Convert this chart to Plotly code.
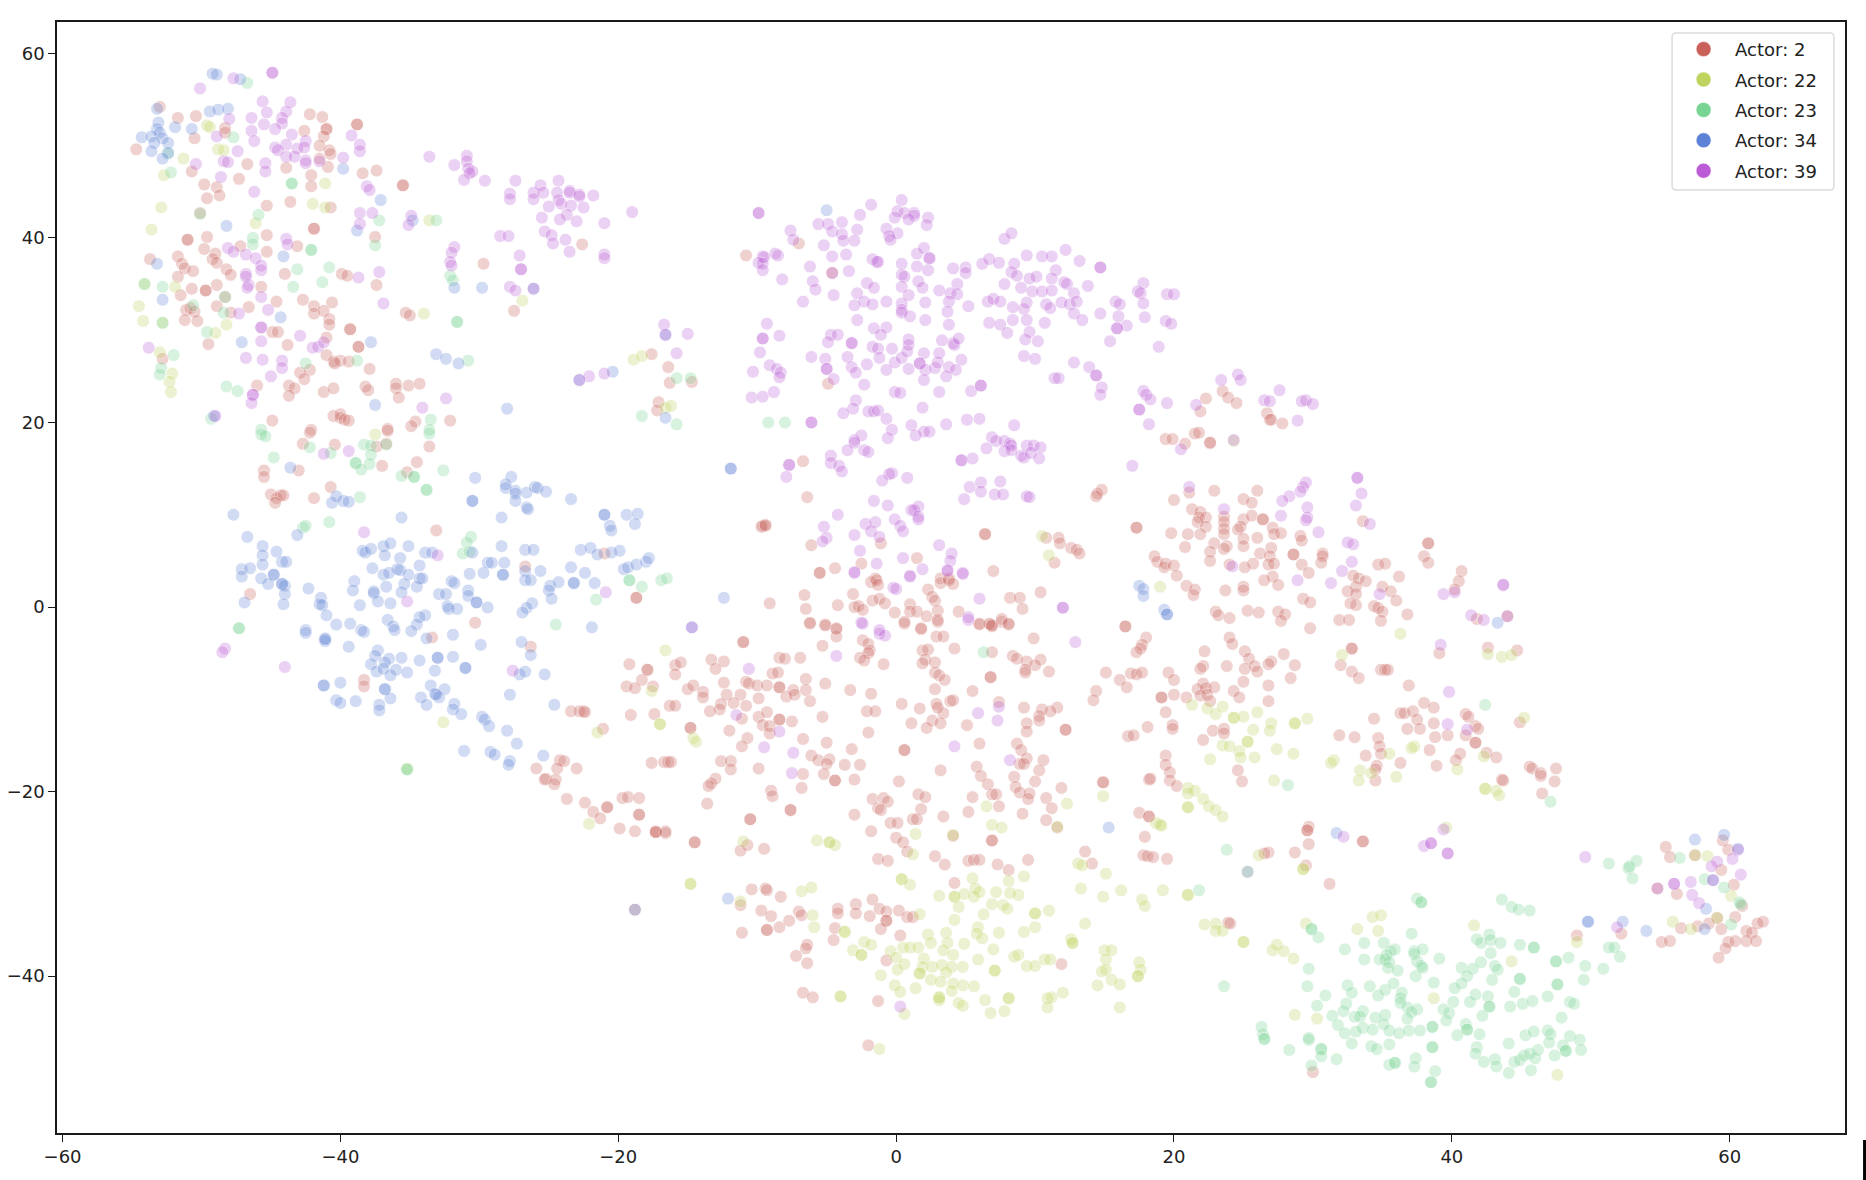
import plotly.graph_objects as go

# values, (x, y) per actor
actor_2 = [
    (-53,54.2),(-51.7,53),(-50.4,53.2),(-48.3,51.9),(-48.3,51.4),(-50.5,50.8),(-54.7,49.6),(-42.2,53.4),(-41.3,53.1),
    (-38.8,52.3),(-38.8,52.3),(-41,51.8),(-41,51.8),(-42.6,51.6),(-41.2,51),(-41.5,50),(-40.8,49.5),(-40.7,49.1),
    (-41.5,48.6),(-40.9,47.7),(-46.7,48),(-43.9,47.6),(-50.7,47.2),(-37.4,47.3),(-38.4,47),(-42.1,46.8),(-47.3,46.4),
    (-49.8,45.8),(-48.9,45.5),(-42.1,45.6),(-48.7,44.6),(-49.6,44.3),(-35.5,45.7),(-35.5,45.7),(-45.3,43.5),(-43.6,43.9),
    (-40.7,43.3),(-50.1,42.7),(-41.9,41),(-41.9,41),(-51,39.8),(-51,39.8),(-49.6,40.1),(-45.3,40.3),(-37.5,40.1),
    (-47.2,39.1),(-43.1,39.1),(-49.8,38.8),(-45.3,38.5),(-53.7,37.7),(-51.7,38),(-49,38.3),(-49.2,37.7),(-48.9,37.3),
    (-51.4,37.2),(-51.2,36.7),(-50.6,36.4),(-48.2,36.6),(-47.9,36),(-51.7,35.8),(-44,36.1),(-39.9,36.1),(-39.5,35.9),
    (-37.4,34.9),(-50.7,34.5),(-48.9,34.9),(-49.7,34.3),(-49.7,34.3),(-45.7,34.7),(-51.5,33.8),(-48.3,33.6),(-42.7,33.3),
    (-40.6,33),(-44.6,33.1),(-48.9,32.6),(-46.6,32.5),(-51.1,32.2),(-50.8,32.4),(-50.5,32),(-47.9,31.9),(-41.9,32.6),
    (-41.9,31.8),(-41.2,32.1),(-51.2,31.1),(-50.3,31),(-40.8,31.2),(-40.8,30.6),(-35.3,31.9),(-35,31.6),(-39.3,30.1),
    (-39.3,30.1),(-44.9,29.8),(-44.5,29.8),(-41,29.2),(-49.5,28.5),(-43.8,28.4),(-38.7,28.2),(-38.7,28.2),(-27.5,32.1),
    (-41,27.3),(-40.5,26.6),(-40,26.7),(-39.4,26.6),(-40.4,26.4),(-29.7,37.2),(-22.6,39.3),(-52.8,26.9),(-42.2,25.7),
    (-42.9,25.4),(-42.6,24.7),(-37.9,25.8),(-46,24),(-43.7,24),(-43.3,23.7),(-43.7,22.9),(-41.2,23.3),(-40.5,23.7),
    (-38.2,23.9),(-38,23.5),(-36,24.2),(-36,23.7),(-35.1,24),(-34.3,24.2),(-35.8,22.7),(-17.6,27.4),(-16.4,26),
    (-16.3,24.3),(-14.7,24.4),(-17.1,22.2),(-17.2,21.3),(-44.9,20.2),(-40.5,20.7),(-40,20.9),(-40,20.5),(-39.7,20.3),
    (-39.4,20.2),(-34.6,20.1),(-34.9,19.6),(-32.1,20.2),(-36.6,19.3),(-42.1,19.2),
    (-42.2,18.9),(-36.6,19.1),(-42.7,17.7),(-40.4,17.6),(-37.4,17.4),(-36.7,17.7),(-33.6,17.4),(-34.5,15.7),(-37,15.3),
    (-43,14.8),(-45.5,14.8),(-45.5,14.1),(-35.2,14.6),(-40.7,13),(-45,12.2),(-44.6,11.8),(-44.3,12.1),(-44.1,12.1),
    (-44.7,11.3),(-41.9,11.8),(-33.1,8.3),(-26.7,4.4),(-21,5.8),(-18.7,1),(-18.7,1),(-46.5,1.4),(-30.3,-1.7),(-33.4,-3.3),
    (-26.3,-4.3),(-9.6,8.8),(-9.4,8.8),(-9.1,0.4),(-11,-3.8),(-11,-3.8),(-38.3,-7.9),(-38.3,-8.6),
    (-19.2,-6.2),(-17.9,-6.8),(-17.9,-6.8),(-18.3,-7.9),(-19.4,-8.6),(-18.8,-8.8),(-17.5,-8.6),(-15.9,-6.3),(-15.5,-6),
    (-15.9,-7.3),(-13.3,-5.7),(-12.4,-5.9),(-13,-6.7),(-8.4,-5.5),(-8,-5.6),(-6.9,-5.5),(-8.9,-7.2),(-8.5,-7.1),
    (-12.4,-8.2),(-10.8,-8.1),(-10.6,-8.3),(-10,-8.5),(-9.3,-8.5),(-8.4,-8.7),(-8.4,-8.7),(-7.4,-9),(-15,-8.9),(-14.6,-8.5),
    (-13.9,-9.2),(-13.9,-9.8),(-12.2,-9.5),(-11.2,-9.5),(-9.9,-9.9),(-7.9,-9.7),(-11.7,-10.4),(-10.8,-10.7),(-12.6,-10.5),
    (-12.7,-11.1),(-13.4,-11.3),(-16.3,-10.7),(-15.9,-10.7),(-19.1,-11.7),(-17.4,-11.6),(-11.1,-12.1),(-9.9,-11.9),
    (-9.3,-11.4),(-8.4,-12.2),(-8.4,-12.2),(-7.5,-12.4),(-9.6,-12.8),(-9.1,-12.9),(-9.1,-13.7),(-12,-13.4),(-14.8,-13.1),
    (-14.8,-13.1),(-10.7,-14.2),(-11.1,-15.1),(-21.1,-13.2),(-23.4,-11.3),(-22.8,-11.3),(-22.5,-11.3),(-22.4,-11.4),
    (-17.6,-16.9),(-16.7,-16.8),(-16.4,-16.8),(-16.2,-16.8),(-12.6,-16.7),(-11.9,-16.7),(-11.9,-17.6),(-9.9,-17.5),
    (-24.2,-16.6),(-23.9,-16.7),(-24.4,-17.5),(-25.9,-17.5),(-23,-17.5),(-25.2,-18.6),(-25.3,-18.7),(-24.5,-18.7),
    (-24.6,-19.2),(-23.7,-20.8),(-22.4,-21.2),(-21.8,-22.2),(-20.8,-21.7),(-20.8,-21.7),(-21.3,-22.9),(-19.7,-20.7),
    (-19.3,-20.6),(-18.5,-20.7),(-18.5,-22.5),(-18.5,-22.5),(-19.9,-24),(-18.8,-24.3),(-17.3,-24.3),(-16.6,-24.3),
    (-13,-18.6),(-13.3,-19.1),(-13.5,-19.4),(-13.6,-21.3),(-10.5,-23),(-10.5,-23),(-9,-19.9),(-8.9,-20.5),(-7.6,-22),(-7.6,-22),
    (-6.2,-1.8),(-5.1,-1.9),(-4.3,-2.4),(-4.3,-3.2),(-5.3,-4.2),(-2.4,-3.6),(-2,-4),(-1.9,-4.7),(-2,-5),(-2.6,-5.5),
    (-2.3,-5.8),(-0.9,-6.2),(0.6,-1.8),(1.8,-2.4),(3,-1.6),(2.9,-3.2),(3.4,-3.2),(4.2,-4.5),(1.9,-4.7),(2.3,-4.6),
    (2.1,-5.7),(1.9,-6.1),(2.8,-6),(2.8,-7.1),(3.1,-7.4),(3.5,-7.9),(2.8,-8.9),(5.5,-9.1),(6,-1.9),(6.8,-1.9),(6.9,-2.1),
    (7.6,-1.6),(8.1,-1.9),(6.9,-4.9),(6.8,-7.6),(6.8,-7.6),(9.9,-3.4),(8.4,-5.3),(8.7,-5.6),(9.4,-5.9),(10.4,-5.7),(10,-6.3),
    (9.3,-6.8),(9.3,-7.1),(11,-7),(16.5,-2.1),(16.5,-2.1),(18,-3.3),(17.7,-4.1),(17.6,-4.5),(17.3,-4.9),(15.1,-7.1),(16.9,-7.2),
    (17.3,-7.3),(17.7,-7.1),(16.1,-7.9),(16.6,-8.7),(14.4,-9.1),(14.2,-10.1),(18.1,-13),(16.7,-14),(17.1,-13.9),(12.2,-13.3),
    (12.2,-13.3),(18.2,-18.7),(14.9,-19),(14.9,-19),(17.5,-22.3),(18.2,-22.7),(18.2,-22.7),(17.9,-24.9),(17.8,-26.9),(18.1,-27),
    (18.5,-27.1),(19.5,-27.3),(13.6,-26.5),(14.1,-27.8),(23.9,-34.2),
    (9.2,-10.9),(10.5,-11.1),(11.6,-10.9),(11.1,-11.3),(10.3,-11.8),(9.4,-12.6),(10.3,-12.3),(9.4,-13.5),(7.4,-10.3),
    (5.1,-12.8),(6,-14.8),(8.7,-14.8),(9,-15.5),(9.4,-16.4),(10.6,-16.6),(8.9,-17),(9.2,-17),(10.3,-17.7),(5.8,-17.3),
    (6.1,-18.3),(6.6,-19.2),(8.5,-18.4),(10,-18.9),(8.6,-19.5),(8.9,-20.1),(9.6,-20.2),(9.5,-20.8),(10.8,-20.7),(11.9,-19.6),
    (11.2,-21.8),(9.1,-22.4),(10.8,-23.1),(11.6,-23.9),(6.9,-20.3),(7.2,-20.3),(5.5,-20.6),(7.4,-21.6),(5.2,-22.2),
    (3.2,-17.7),(0.2,-18.9),(1.6,-20.3),(2.1,-20.6),(1.8,-21.9),(3.4,-22.7),(1.2,-23),(1.5,-23),(-1.7,-20.8),(-0.9,-20.7),
    (-0.6,-21.1),(-1.3,-21.8),(-1.1,-22),(-3,-22.5),(-0.4,-23.4),(0.1,-23.4),(-1.8,-24.3),(0,-25),(0.5,-25.5),(0.8,-26.5),
    (-1.3,-27.3),(-0.6,-27.5),(2.8,-27),(3.5,-27.9),(4.1,-24.8),(6.9,-25.3),(6.9,-25.3),(5.2,-27.5),(5.6,-27.4),(6,-27.4),
    (7.3,-27.9),(8.1,-28.5),(9.5,-27.4),(4.2,-29.9),
    (-6.5,-7.8),(-5.1,-8.3),(-3.3,-9),(-1.8,-9.4),(-6.5,-9),(-7.3,-9.5),(-6.2,-10.2),(0.4,-10.5),(1.7,-11),(2.9,-10.5),
    (3.4,-11.5),(3.9,-10.2),(4.1,-10.1),(3,-10.9),(-2.1,-11.3),(-1.5,-11.3),(-5.3,-11.9),(1.1,-12.6),(2.6,-12.3),(3.2,-12.6),
    (2.2,-13.1),(-2,-13.6),(-6.7,-14.3),(-5,-14.7),(-3.2,-15.4),(0.6,-15.5),(0.6,-15.5),(-6.1,-16.1),(-5.6,-16.6),(-4.8,-16.5),
    (-5,-17),(-3.7,-17.1),(-2.6,-17.1),(-6.7,-18.1),(-5.2,-18.1),(-4.4,-18.8),(-4.4,-18.8),(-3,-18.7),(-6.8,-19.6),
    (-14.5,-25.5),(-14.5,-25.5),(-17.3,-24.4),(-17.3,-24.4),(-16.6,-24.5),(-10.7,-25.8),(-11.2,-26.4),(-9.5,-26.2),
    (-10.4,-30.6),(-9.4,-30.5),(-9.3,-30.7),(-8.3,-31.4),(-11.2,-32.3),(-9.7,-32.9),(-9,-33.5),(-11.1,-35.3),(-9.3,-35),
    (-9.3,-35),(-8.4,-34.7),(-7.7,-34),(-7,-33),(-6.8,-33.4),(-4.2,-32.7),(-4.2,-33.2),(-2.9,-32.2),(-2.9,-33.2),(-1.7,-31.7),
    (-1.9,-33.5),(-1.2,-32.7),(-0.7,-33),(-0.7,-34),(-0.7,-34),(0.2,-32.9),(0.8,-33.6),(1.2,-33.6),(-1.1,-34.9),(0.3,-35.6),
    (-4.4,-34.8),(-4.5,-36.1),(-6.4,-36.6),(-6.5,-37),(-7.2,-37.8),(-6.4,-38.6),(-0.7,-38.3),(11.9,-38.7),(-6.7,-41.8),
    (-6,-42.3),(-1.3,-42.7),(-2,-47.5),(-18.8,-32.8),
    (19.4,18.2),(19.9,18.2),(20.8,17.7),(21.5,18.8),(21.8,18.9),(22.6,17.8),(22.6,17.8),(21.1,12.4),(22.9,12.6),(20,11.6),
    (25,11.7),(25.6,11.3),(26,12.6),(21.3,10.6),(21.9,10.3),(22.3,9.7),(21.8,9.7),(21.7,9.2),(22.3,8.7),(23.6,9.8),(23.6,9.2),
    (23.6,8.5),(23.6,7.9),(25,9.5),(25.6,9.9),(26.4,9.5),(26.4,9.5),(24.8,8.7),(24.6,8.4),(27.1,8.6),(27.2,7.9),(27.7,8),
    (19.8,8),(21,7.9),(21.9,7.9),(26,7.5),(25,7.4),(25,6.6),(22.9,6.9),(23.8,6.6),(23.6,6.3),(20.8,6.5),(22.6,6),(22.6,5),
    (27,6.4),(26.2,5.8),(26.9,5.5),(28.6,5.7),(28.6,5.7),(29.1,7.7),(29.2,7.2),(30.7,5.8),(30.7,5.5),(30.6,4.8),(29.2,4.6),
    (25.7,4.7),(26.8,4.6),(27.2,4.7),(24,4.6),(25.1,4.3),(29.7,3.7),(27.1,3.3),(26.5,2.9),(27.5,2.4),(18.6,5.5),(18.8,4.9),
    (19.4,4.7),(19.3,4.3),(20,4.5),(20.2,3.4),(20.9,2.3),(21.5,1.9),(21.4,1.3),(23.7,1.8),(25,2.2),(25,1.8),(29.3,0.9),(29.8,0.5),
    (33.6,9.3),(38.3,6.9),(38.3,6.9),(38,5.5),(38.3,4.8),(34.7,4.6),(35.2,4.7),(36.2,3.3),(32.9,3.4),(33.3,3.1),(33.8,2.8),
    (33.1,2.2),(35,2.2),(35.6,1.7),(32.5,1.7),(33.1,1.4),(36,0.7),(32.7,0.4),(33.1,0.2),(34.4,0.1),(34.7,-0.1),(35,-0.5),
    (36.8,-0.8),(31.9,-1.4),(32.6,-1.4),(34.9,-1.5),(29.8,-2.3),(40.7,3.9),(40.5,2.8),(40.2,1.9),(41.8,-1.3),(44,-1),
    (23,-0.5),(23.2,-0.9),(24,-1.2),(25.3,-0.4),(26.1,-0.6),(27.5,-0.5),(28,-0.8),(27.7,-1.5),(24,-3.3),(24.2,-4),(25.1,-4.8),
    (25.4,-5.6),(22.2,-4.8),(27.9,-5.1),(27,-5.9),(26.8,-6.2),(28.7,-6.3),(23.8,-6.4),(25.1,-6.7),(25.8,-6.4),(26,-7),(22.1,-6.4),
    (21.9,-6.7),(19.6,-7.1),(20,-7.9),(28.4,-7.7),(25,-8.1),(26.8,-8.5),(22.1,-8.3),(21.7,-8.9),(22.3,-8.8),(22.9,-8.7),
    (21.9,-9.6),(22.4,-9.5),(22.6,-10.2),(24.3,-9.1),(24.7,-9.8),(19.1,-9.8),(19.1,-9.8),(20,-9.5),(20.9,-9.8),(26.8,-10.2),
    (19.4,-11.4),(19.9,-12.8),(19.9,-13.2),(22.8,-13.4),(23.6,-13.2),(23.6,-13.7),(22.1,-14.4),(32.8,-4.5),(32.8,-4.5),(32,-6.3),
    (32.8,-7),(33.3,-7.7),(34.9,-6.8),(35.2,-6.8),(35.4,-6.8),(39.1,-5),(42.6,-4.4),(44.7,-4.7),(36.9,-8.5),(38,-10.4),(38.7,-10.9),
    (36.3,-11.5),(36.6,-11.5),(37.2,-11.3),(37.5,-12.2),(34.4,-12.1),(38.7,-12.6),(36.8,-13.2),(37.7,-13.2),(31.9,-13.9),(33,-14.1),
    (34.7,-14.2),(34.8,-15.1),(34.9,-15.9),(33.8,-16.1),(38.8,-14.1),(39.7,-13.9),(41,-13.9),(41,-11.6),(41.2,-11.9),(41.7,-12.9),
    (41.9,-13.2),(41.7,-14.7),(41.7,-14.7),(44.9,-12.5),(38.4,-15.5),(40.6,-15.9),(40.3,-16.6),(42.5,-15.8),(43.2,-16.3),(36.3,-16.9),
    (38.9,-17.2),(34.6,-17.2),(34.5,-17.6),(34.5,-18.8),(24.6,-17.7),(24.9,-18.9),(19.4,-16.1),(19.4,-17.1),(19.7,-17.9),(19.7,-18.8),
    (20.2,-19.4),(18.3,-18.6),(43.6,-18.7),(43.7,-18.8),(45.6,-17.3),(45.8,-17.5),(46.4,-18),(46.4,-18.3),(47.5,-17.5),(47.4,-18.9),(46.5,-20.2),
    (-10.8,38.1),(-7,39.4),(-4.6,36.2),(-4.9,24.2),(-6.7,15.8),(-6.4,11.9),(-9.7,8.7),(-9.4,8.9),(-6.1,6.7),(-1.1,6.9),(6.4,7.9),(6.4,7.9),
    (10.8,7.5),(11.7,7.5),(11.8,6.9),(12.6,6.4),(13,6.2),(13.2,5.8),(11.4,4.8),(14.8,12.7),(14.5,12.3),(14.4,12),(17.3,8.6),(17.3,8.6),
    (-5.5,3.7),(-5.5,3.7),(-4.4,4.2),(-2.5,4.7),(1.5,5.3),(7,3.9),(-1.5,3.1),(3.2,3.1),(3.8,3.1),
    (22.3,22.6),(21.9,21.2),(23.5,23.4),(23.9,22.7),(24.5,22.1),(26.7,21),(26.9,20.3),(27,20.3),(27.8,19.9),
    (-1.8,2.7),(-1.4,2.9),(-1.3,2.4),(-6.6,1.3),(-3.1,1.4),(-4.2,0.2),(-6.5,-0.2),(-3,0),(-2.7,0.1),(-2.4,-0.3),(-1.7,0.7),(-1.2,0.9),
    (-0.8,0.4),(-0.1,-0.6),(-6.2,-1.7),(-5.1,-2),(-4.3,-2.3),(0.6,-1.6),(1,0.3),(1,-0.5),(1.5,-0.5),(2.2,-1),(2.3,1.9),(2.6,1.1),
    (2.8,0.7),(3.2,2.6),(3.8,2.9),(4.1,2.5),(3,-0.4),(3,-1.4),(4.5,-0.5),(1.8,-2.3),(8.2,1),(8.9,1),(9.1,-0.2),(10.4,1.6),(6,-1.8),
    (6.7,-1.8),(6.9,-2),(7.6,-1.3),(8.1,-1.8),
    (29.7,-23.8),(29.6,-24.2),(29.6,-24.2),(33.6,-25.4),(33.6,-25.4),(29.7,-25.7),(26.8,-26.6),(26.5,-26.7),(28.7,-26.6),(29.5,-28),
    (31.2,-30),(24.05,-34.3),(30,-50.4),(49,-35.6),(55.4,-26),(55.7,-27.1),(57.5,-26.9),(59.5,-25.3),(59.9,-26.3),(59.4,-28.5),
    (60.3,-30.1),(54.8,-30.5),(56.2,-31.1),(60.9,-32.4),(60.4,-33.6),(59.1,-33.7),(58.5,-34.3),(57.7,-34.6),(56.5,-34.8),(59.4,-34.9),
    (61.2,-35.1),(62,-34.3),(62.4,-34.1),(61.6,-35.3),(55.1,-36.3),(55.7,-36.2),(59.9,-36.3),(60.4,-36.2),(61.2,-36.2),(61.9,-36.2),
    (59.7,-37),(59.2,-38),(52.2,-35.4),
]

actor_22 = [
    (-49.6,52.2),(-49.4,52),(-48.8,49.6),(-48.4,49.5),(-51.3,48.6),(-52.7,46.8),(-41.1,45.9),(-52.9,43.3),(-42,43.7),(-41.1,43.3),
    (-46.1,41.6),(-53.6,40.9),(-33.6,41.9),(-51.9,34.7),(-54.5,32.6),(-54.2,31),(-52.8,30.8),(-48.2,30.6),(-49,29.7),(-53,27.6),
    (-52.1,25.3),(-52.3,24.4),(-52.2,23.3),(-34,31.8),(-26.9,33.2),(-18.9,26.8),(-18.3,27.2),(-16.6,21.6),(-16.2,21.8),(-54.1,35),
    (-37.5,18.7),(-16.6,-4.7),(-17.6,-9.1),(-17,-12.7),(-17,-12.7),(-21.5,-13.6),(-32.6,-12.5),(-14.6,-14.2),(-14.4,-14.6),(-22.1,-23.5),(-35.2,-17.5),
    (10.5,7.7),(11,5.6),(24.3,18),(19,2.2),(36.3,-2.9),(32.1,-5.2),(42.6,-5.1),(43.6,-5.4),(44.3,-5.2),(45.2,-12),(21.3,-10.6),
    (22.4,-11),(23,-11.6),(23.5,-10.8),(24.3,-12),(24.3,-12),(25,-11.9),(26,-11.4),(27,-12.6),(26.9,-13.4),(25.7,-13.3),(28.7,-12.6),(28.7,-12.6),
    (29.6,-12.1),(25.3,-14.6),(25.3,-14.6),(23.5,-15),(24,-15.1),(24.7,-15.6),(24.8,-16.3),(25.8,-16.3),(27.4,-15.4),(28.6,-15.9),(22.6,-16.5),
    (27.2,-18.8),(35.5,-15.9),(31.5,-16.6),(31.3,-16.9),(33.4,-17.7),(34.2,-18),(33.3,-18.8),(36,-18.4),(37.3,-15.1),(37.1,-15.3),(40.4,-17.6),
    (42.3,-16.2),(42.4,-19.7),(42.4,-19.7),(43.2,-19.9),(43.4,-20.4),(21,-19.6),(21.5,-19.9),(21,-20.2),(22.1,-20.8),(22.5,-21.6),(23,-22),
    (23.5,-22.7),(21,-21.7),(21,-21.7),(19,-23.6),(18.7,-23.4),(19.1,-23.7),
    (-11,-25.4),(-5.7,-25.3),(-4.8,-25.5),(-4.8,-25.5),(-4.4,-25.8),(1.4,-24.6),(4.1,-24.7),(1.2,-26.8),(6.5,-21.6),(6.9,-23.6),(7.6,-23.9),
    (11.6,-23.8),(12.3,-21.3),(14.9,-20.5),(13.1,-27.8),(13.4,-28),(15.1,-28.9),(13.3,-30.5),(14.9,-31.4),(16.2,-30.7),(17.7,-31.7),(17.9,-32.4),
    (19.2,-30.7),(21,-31.2),(21,-31.2),(22.2,-34.4),(23,-34.3),(23,-35.1),(23.5,-35.1),(25,-36.3),(25,-36.3),
    (-14.8,-30),(-14.8,-30),(-11.2,-31.9),(-6.8,-30.8),(-6.1,-30.4),(-6,-33.4),(-5.9,-34.7),(-3.7,-35.2),(-3.7,-35.2),(-2.3,-36.3),(-1.8,-36.6),
    (-3.1,-37.2),(-2.5,-37.7),(-2.5,-37.7),(1.7,-33.3),(0.4,-29.5),(0.4,-29.5),(1,-30.1),(3.1,-31.3),(4.2,-31.4),(4.2,-31.4),(4.9,-31.1),(5.5,-29.4),
    (5.7,-30.5),(5.6,-31.4),(6,-30.9),(7.2,-30.9),(8.1,-29.7),(8.2,-31),(8.8,-31.2),(9.2,-29.2),(6.9,-32.2),(7.7,-32.3),(8,-32.7),(4.5,-32.5),
    (6.3,-33.3),(4.2,-33.9),(10,-33.2),(10,-33.2),(11,-32.9),(5.9,-34.7),(5.8,-35.4),(6.2,-35.9),(7.4,-35.3),(9.2,-35.2),(10,-34.7),(13.6,-34.3),
    (2.3,-35.5),(3.6,-35.3),(2.5,-36.4),(3.7,-36.4),(4.9,-36.5),(3.4,-37.2),(4.1,-37.7),(7,-37.1),(-0.4,-37.3),(0.5,-36.9),(1,-36.9),(1.6,-36.9),
    (0,-38),(0.6,-38.7),(2,-38.1),(0.1,-39.3),(-1.1,-39.9),(1.9,-39),(2.6,-39),(3.3,-38.8),(4,-39),(4.8,-39),(5.9,-38.2),(1.7,-39.7),(1.7,-39.7),
    (3.6,-39.6),(7.1,-39.4),(7.1,-39.4),(8.5,-37.9),(8.8,-37.7),(9.4,-38.9),(10,-38.9),(10.7,-38.2),(11.1,-38.2),(12.6,-36),(12.7,-36.4),(12.7,-36.4),
    (15,-37.2),(15.5,-37.2),(15.1,-38.2),(14.8,-39.5),(15.1,-39.3),(17.5,-38.5),(17.6,-39.3),(17.4,-40),(17.4,-40),(15.5,-40.4),(16.1,-40.9),
    (14.5,-41),(12,-41.8),(11.2,-42.3),(10.9,-42.4),(10.9,-43.4),(16.1,-43.4),(2.5,-40.4),(3.2,-40.6),(4.1,-40.8),(4.8,-41),(5.6,-41.1),(4,-41.6),
    (-0.1,-41),(0.3,-41.7),(1.4,-41.3),(3.1,-42.3),(3.1,-42.3),(3.1,-42.6),(4.5,-42.9),(4.8,-43.2),(6.4,-42.6),(8.1,-42.4),(8.1,-42.4),(6.8,-44),
    (7.8,-43.8),(0.6,-44.1),(-4,-42.2),(-4,-42.2),(-1.2,-47.9),
    (26.1,-26.9),(29.3,-28.4),(29.3,-28.4),(29.5,-34.3),(34.3,-33.6),(34.9,-33.4),(33.2,-34.9),(34.7,-35.1),(41.6,-34.5),(27.4,-36.6),(27.1,-37.2),
    (27.9,-37.3),(28.6,-38.1),(44.3,-38.4),(38.7,-42.4),(28.7,-44.2),(30.3,-44.6),(47.6,-50.7),(39.6,-23.9),(49,-36.3),(55.9,-34.1),(57.2,-34.9),
    (58.4,-27),(57.5,-26.9),(60.1,-31.3),(59.1,-33.7),(25.3,-28.7),
]

actor_23 = [
    (-46.7,56.8),(-47.7,50.9),(-52.4,49.2),(-52.2,47.1),(-43.5,45.9),(-43.5,45.9),(-50.1,42.6),(-45.9,42.5),(-37.2,41.9),(-33.1,41.9),(-46.3,40),
    (-46.3,39.3),(-42.1,38.7),(-42.1,38.7),(-37.5,39.2),(-54.1,35),(-52.8,34.7),(-43.1,36.6),(-40.8,36.8),(-41.3,35.2),(-43.4,34.7),(-48.3,33.6),
    (-50.6,32.7),(-48.4,31.9),(-49.6,29.8),(-52.8,30.8),(-52,27.3),(-52.9,25.9),(-53,25.2),(-42.5,26.4),(-38.8,26.7),(-48.2,23.9),(-47.4,23.4),
    (-30.8,26.7),(-32.1,35.9),(-31.9,35.4),(-31.6,30.9),(-31.6,30.9),(-15.8,24.8),(-14.8,24.8),(-18.3,20.7),(-15.8,19.8),(-49.3,20.4),(-33.5,20.3),
    (-33.6,19.2),(-45.7,19.2),(-45.7,18.7),(-45.4,18.5),(-42.2,17.3),(-40.7,16.7),(-33.6,18.8),(-38.3,17.6),(-37.8,17.5),(-36.7,17.6),(-37.8,16.5),
    (-44.8,16.2),(-38.9,15.6),(-38.9,15.6),(-37.9,15.5),(-38.5,14.9),(-35.6,14.2),(-34.7,14.1),(-34.7,14.1),(-32.6,14.8),(-33.8,12.7),(-33.8,12.7),
    (-38.6,11.9),(-40.8,9.2),(-42.7,8.6),(-42.5,8.8),(-30.6,7.6),(-30.9,7),(-31.2,5.8),(-30.7,6),(-19.2,2.9),(-19.2,2.9),(-18.3,2.2),(-16.9,2.9),
    (-16.5,3.1),(-21.6,0.8),(-24.5,-1.9),(-47.3,-2.3),(-47.3,-2.3),(-35.2,-17.6),(-35.2,-17.6),(-9.2,20),(-8,20),(6.3,-4.9),(23.8,-26.3),(21.8,-30.7),
    (23.6,-41.1),(42.4,-10.6),(28.2,-19.3),(47.1,-21.1),
    (37.5,-31.6),(37.8,-32),(37.8,-32),(29.9,-34.9),(29.9,-34.9),(30.4,-35.8),(32.3,-37.1),(33.7,-36.4),(35.1,-36.4),(35.9,-37.1),(35.6,-37.3),(37.1,-35.4),
    (35.3,-37.7),(37.3,-37.3),(37.9,-37.1),(37.3,-37.6),(33.7,-38.2),(34.8,-38.2),(35.2,-38.2),(35.5,-38.5),(35.4,-39.1),(36.1,-39.4),(37.5,-38.4),
    (37.8,-38.9),(37.9,-39.1),(39.1,-38.1),(37.4,-40),(29.7,-39.2),(29.6,-41.1),(38.7,-40.7),(32.5,-41),(32.8,-41.8),(30.9,-42.1),(34.1,-41.1),
    (34.7,-42.1),(35.2,-41.5),(35.8,-40.8),(36.4,-41.8),(36.3,-42.4),(36.3,-42.9),(30.3,-43.2),(32.4,-43),(32.2,-43.8),(31.4,-44.3),(33,-44.4),
    (33.6,-43.8),(33.4,-44.4),(34.5,-44.5),(35.2,-44.2),(36.8,-43.4),(37.5,-43.6),(37.1,-43.9),(36.8,-44.6),(31.8,-45.3),(33.6,-45.6),(34.3,-45.8),
    (35.1,-45.2),(35.5,-45.9),(36.2,-46.2),(36.9,-45.9),(37.7,-45.9),(38.6,-45.5),(38.6,-45.5),(32.3,-46.2),(33.1,-46),(32.8,-47.3),(34.2,-47.6),
    (34.6,-47.9),(35.5,-47.4),(38.6,-47.7),(38.6,-47.7),(28.3,-48),(29.7,-46.7),(29.7,-46.9),(30.6,-47.9),(30.6,-47.9),(30.6,-48.7),(31.7,-49),
    (29.9,-49.7),(35.5,-49.6),(35.9,-49.4),(35.9,-49.4),(37.4,-48.9),(37.3,-49.8),(38.8,-50.3),(38.5,-51.5),(38.5,-51.5),(26.3,-45.5),(26.4,-46.3),
    (26.5,-46.8),(26.5,-46.8),(40.7,-39.1),(41.5,-39.2),(41.1,-40),(40.7,-40.8),(40.2,-41.3),(42.1,-38.5),(42.8,-37.5),(41.8,-36),(42.1,-36.4),
    (42.7,-35.5),(42.8,-36.1),(43.5,-36.4),(44.9,-36.6),(45.9,-36.9),(45.9,-36.9),(43.1,-38.9),(43.3,-39.3),(42.9,-40.4),(44.9,-40.3),(44.9,-40.3),
    (47.5,-38.4),(47.5,-38.4),(48.4,-38),(49.6,-38.9),(50.9,-39.2),(52.1,-37.9),(51.3,-36.9),(51.7,-36.9),(49.5,-40.4),(47.6,-40.9),(47.6,-40.9),
    (44.5,-41.7),(41.7,-42),(41.3,-42.8),(40.1,-42.8),(42.6,-42.2),(42.7,-43.3),(42.7,-43.3),(44.2,-43.3),(45.1,-43),(45.8,-42.7),(46.9,-42.2),
    (48.5,-42.8),(48.8,-43),(47.9,-44.5),(39.4,-43.6),(39.8,-44),(39.6,-44.8),(42.2,-44.3),(41,-45.2),(41.1,-45.8),(41.1,-45.8),(40.4,-46.4),(42,-46.3),
    (44.1,-47.3),(45.3,-46.4),(45.9,-46),(46.9,-45.9),(47.1,-46.3),(47,-47.2),(48.5,-46.5),(49.2,-46.9),(48,-47.5),(48.2,-48.1),(48.2,-48.1),(49.3,-48),
    (47.4,-48.6),(41.8,-47.7),(41.7,-48.4),(42.3,-49.3),(43.1,-49),(43.2,-49.8),(44.1,-50.5),(45.7,-50.2),(44.5,-49.3),(44.9,-49.1),(45.2,-48.6),
    (45.6,-48.4),(46,-48.9),(46.2,-48),(43.6,-31.7),(44.3,-32.5),(44.8,-32.8),(45.6,-32.9),(51.3,-27.8),(52.7,-28.3),(53.3,-27.5),(53,-29.4),(52.8,-28.1),
    (56.4,-27.2),(58.2,-29.5),(59.6,-30.4),(60.7,-32),(60.8,-32.2),(60.1,-34.4),
]

actor_34 = [
    (-49.2,57.8),(-48.9,57.7),(-47.2,57.2),(-53.2,54),(-49.4,53.7),(-48.8,53.9),(-48.1,54),(-53.1,52.5),(-51.9,52),(-50.7,51.8),(-53.2,51.8),(-53,51.4),
    (-54.3,50.9),(-53.6,51),(-52.8,50.8),(-52.4,50.3),(-53.4,50.3),(-53.6,49.4),(-52.4,49.2),(-52.8,48.6),(-39.8,47.5),(-37.1,44.1),(-48.2,41.3),
    (-34.8,41.9),(-38.8,40.8),(-53.2,37.2),(-44.1,38),(-52.8,33.3),(-44.3,31.4),(-47.1,28.7),(-37.8,28.7),(-33.1,27.4),(-32.4,26.9),(-31.5,26.4),
    (-37.5,21.9),(-28,21.5),(-20.4,25.5),(-22.8,24.6),(-16.6,29.5),(-31.8,34.6),(-29.8,34.6),(-26.1,34.5),(-49.1,20.7),(-16.6,20.5),
    (-43.6,15.1),(-40.6,11.3),(-40.3,12),(-39.8,11.5),(-39.4,11.4),(-47.7,10),(-35.6,9.7),(-43.1,7.8),(-46.7,7.6),(-30.3,14),(-30.5,11.5),(-30.5,11.5),
    (-27.7,14.1),(-28.1,13.3),(-28.1,12.9),(-27.4,12.6),(-27.4,12.3),(-27.4,11.5),(-26.6,12.4),(-26,13),(-25.8,12.9),(-25.2,12.5),(-23.4,11.7),(-26.6,10.8),
    (-26.5,10.6),(-28.4,9.7),(-21,10),(-21,10),(-19.4,10),(-18.6,10.1),(-18.8,9),(-20.6,8.8),(-20.5,8.3),(-11.9,15),(-11.9,15),
    (-45.6,6.6),(-45.6,5.6),(-45.6,4.6),(-44.6,6),(-44.2,4.9),(-43.9,4.9),(-47.1,4.1),(-46.5,4.2),(-47.1,3.3),(-45.7,3.1),(-44.8,3.5),(-44.8,3.5),(-45.2,2.5),
    (-44.2,2.5),(-44,2.3),(-44.2,2.5),(-44,1.4),(-44.1,0.3),(-46.9,0.5),(-42.3,2),(-41.4,1),(-41.5,0.3),(-41.3,0.2),(-41,-0.9),(-40.3,-1.9),(-39.3,-1.8),
    (-42.5,-2.5),(-42.5,-2.8),(-41.1,-3.4),(-41.1,-3.7),(-41.1,-3.5),(-39.4,-4.3),(-38.5,-2.5),(-38.3,-2.7),
    (-38.4,6.1),(-38.2,5.9),(-37.8,6.3),(-36.9,6.6),(-36.4,6.9),(-36.8,5.6),(-35.1,6.6),(-35.7,5.3),(-33.9,5.9),(-33.4,5.9),(-37.7,4.2),(-39,2.8),(-39.1,1.8),
    (-36.9,3.5),(-36.5,3.7),(-35.9,4.1),(-35.7,4),(-35.1,3.5),(-34.3,4.5),(-34.3,3.1),(-34.1,3.1),(-35.4,2.5),(-36.7,2.2),(-37.6,1.7),(-37.6,1.5),(-35.6,1.6),
    (-34.5,2.2),(-37.3,0.6),(-38.6,0.2),(-36.4,0.4),(-32,2.8),(-31.8,2.6),(-30.7,3.6),(-29.7,3.7),(-29.4,4.8),(-29.1,4.8),(-28.2,4.8),(-28.3,3.5),(-28.3,3.5),
    (-28.4,6.6),(-26.7,6.2),(-26.1,6.2),(-30.5,5.9),(-26.7,3.9),(-26.7,2.9),(-26.3,2.9),(-25.6,3.9),(-24.9,2.3),(-25,1.8),(-24.8,0.9),(-24.3,2.7),(-23.4,4.3),
    (-23.2,2.6),(-23.2,2.6),(-22.4,3.7),(-21.7,2.6),(-22.7,6.2),(-22,6.4),(-21.5,5.7),(-20.5,5.9),(-19.9,6.1),(-19.6,4.1),(-19.3,4.3),(-18.7,4.6),(-18,4.9),(-17.8,5.3),
    (-12.4,1),(-32.9,1.4),(-32.4,1.4),(-30.8,1.8),(-30.8,1.2),(-30.2,0.5),(-30.2,0.5),(-32.3,0.1),(-32.2,-0.2),(-31.6,-0.2),(-29.4,-0.05),(-26.2,0.4),(-26.6,-0.1),
    (-26.9,-0.6),(-21.9,-2.2),(-36.6,-1.4),(-36.2,-2.1),(-36.1,-2.5),(-33.9,-0.9),(-34.3,-1.1),(-34.5,-1.9),(-34.9,-2.6),(-33.8,-3.4),(-31.9,-3),(-26.96,-3.8),
    (-29.9,-4.1),(-26.3,-5.2),(-37.3,-4.7),(-37.5,-5.3),(-37.8,-6.2),(-36.5,-5.6),(-36.8,-6),(-35.6,-5.5),(-34.3,-5.8),(-33,-5.5),(-33,-5.5),(-31.9,-5.4),(-37.4,-7),
    (-36.9,-6.7),(-36.4,-7.4),(-36,-6.8),(-35.2,-7.1),(-33.2,-6.9),(-31,-6.6),(-31,-6.6),(-27.1,-7.3),(-26.7,-7),(-25.3,-7.3),(-41.2,-8.5),(-41.2,-8.5),(-40,-8.2),
    (-36.8,-8.9),(-36.8,-8.9),(-33.5,-8.5),(-32.5,-8.9),(-33.2,-9.4),(-32.9,-9.8),(-33.1,-9.5),(-40.3,-10.1),(-40,-10.4),(-38.9,-10.2),(-36.4,-9.9),(-34.2,-9.8),(-33.8,-10.6),
    (-27.8,-9.5),(-24.6,-10.6),(-37.2,-10.6),(-37.2,-11.2),(-31.8,-10.5),(-31.9,-11.1),(-31.3,-11.6),(-29.8,-11.9),(-29.6,-12.2),(-29.3,-12.9),(-28,-13.4),(-27.3,-14.8),
    (-31.1,-15.6),(-29.2,-15.7),(-28.9,-16),(-27.8,-16.7),(-27.9,-17.1),(-25.4,-16.1),
    (-5,43),(19.3,-0.3),(19.5,-0.8),(19.5,-0.8),(43.3,-1.7),(-14.7,-2.2),(-12.1,-31.6),(15.3,-23.9),(31.7,-24.5),(25.3,-28.7),(57.5,-25.2),(59.6,-24.7),(60.6,-26.2),
    (58.3,-32.7),(58.8,-29.6),(49.8,-34.1),(49.8,-34.1),(52.3,-34.1),(54,-35.1),(58.2,-34.9),(17.5,2.3),(17.8,1.95),(17.8,1.2),(-18.8,-32.8),
]

actor_39 = [
    (-44.9,57.9),(-44.9,57.9),(-47.7,57.3),(-50.1,56.2),(-45.6,54.8),(-43.6,54.7),(-45.3,53.6),(-43.9,53.7),(-48,52.9),(-46.4,53),(-44.2,53),(-45.5,52.3),(-44.2,52.4),
    (-44.7,51.8),(-46.4,51.6),(-43.5,51.2),(-48.9,51),(-46.2,50.5),(-42.5,50.5),(-39.2,51.1),(-38.6,50.1),(-38.6,49.4),(-43.9,50.1),(-44.7,49.8),(-44.5,49.5),(-43.1,49.7),
    (-42.6,49.8),(-47.4,49.4),(-43.9,48.8),(-43.3,48.8),(-42.5,48.4),(-42.5,48.1),(-41.5,48.3),(-39.8,48.7),(-50.4,48),(-48.4,48.3),(-48.1,48.2),(-45.4,48.1),(-45.4,47.2),
    (-48.6,46.6),(-46.2,45),(-38.1,45.6),(-37.9,45.2),(-33.6,48.8),(-30.9,48.9),(-30.9,48.3),(-31.8,47.9),(-30.8,47.5),(-30.5,47.2),(-30.7,47),(-31.1,46.3),(-29.6,46.2),
    (-27.4,46.2),(-27.8,44.8),(-27.8,44.2),(-26.1,44.9),(-26.1,44.2),(-25.6,45.7),(-25.4,44.9),(-24.3,46.2),(-24.4,44.9),(-23.5,45.1),(-23.5,44.9),(-22.8,44.7),(-22.8,44.5),
    (-21.8,44.6),(-24.3,44.1),(-24.1,43.7),(-25,43.4),(-23.4,43.5),(-22.5,43.3),(-19,42.8),(-25.5,42.2),(-23.7,42.5),(-24.2,42),(-23,41.8),(-21,41.6),(-25.3,40.7),(-24.8,40.3),
    (-23.8,39.8),(-24.7,39.4),(-23.5,38.5),(-21,38.2),(-21,37.8),(-28.5,40.2),(-27.9,40.2),(-27.1,38.1),(-27,36.6),(-27,36.6),(-27.8,34.7),(-27.4,34.3),(-26.1,34.5),(-38.6,42.7),
    (-37.7,42.7),(-38.6,41.5),(-34.9,42.4),(-35.1,41.4),(-43.9,39.9),(-43.8,39.3),(-48.1,38.9),(-47.7,38.5),(-46.8,38.2),(-46.1,37.8),(-45.7,37),(-45.7,36.5),(-46.8,36.1),
    (-46.6,34.9),(-46.7,34.6),(-46.8,35.8),(-45.7,33.6),(-45.2,32.2),(-47.3,31.8),(-37.2,36.3),(-38.7,35.7),(-36.9,32.9),(-31.8,39),(-32,38.4),(-32.1,37.4),(-32,37),
    (-45.7,30.3),(-45.7,30.3),(-42.9,29.4),(-45.7,28.8),(-42,28.1),(-41.6,28.2),(-41.2,28.7),(-53.8,28.1),(-46.8,27),(-45.6,26.8),(-44.2,26.7),(-44.2,25.9),(-45,25),(-46.3,23),
    (-46.3,23),(-46.4,22.1),(-49,20.7),(-32.4,22.6),(-34.1,21.6),(-16.7,30.6),(-16.6,29.5),(-15,29.6),(-15.8,27.5),(-22.1,25),(-22.8,24.6),(-21,25.3),
    (-41.2,16.6),(-39.4,16.9),(-38.3,8.1),(-33,5.6),(-35.2,0.6),(-20.9,1.6),(-14.7,-2.2),(-48.3,-4.5),(-48.5,-4.9),(-44,-6.5),(-27.6,-6.9),(-7.7,15.4),(-7.7,15.4),(-7.9,14.1),
    (-10.6,-6.7),(-11.5,-11.7),(-8.4,-13.5),(-9.5,-15.2),(-7.4,-15.8),(-7.5,-18),
    (-4.3,-5.3),(-2.4,-1.8),(-1.2,-2.9),(-0.8,-3.1),(5.2,-1.4),(12.9,-3.8),(7.4,-10.8),(5.9,-11.5),(7.3,-12.3),(4.2,-15.1),(8.2,-16.6),(0.3,-43.3),
    (-9.9,42.7),(-9.9,42.7),(-7.6,40.8),(-7.4,39.8),(-5.6,41.5),(-4.9,41.5),(-3.9,41.7),(-4.6,40.7),(-3.9,40.4),(-3.8,39.7),(-2.8,40.9),(-3,39.7),(-2.6,42.5),(-1.8,43.6),
    (0.4,44.1),(0.1,42.9),(0.6,42.7),(-0.1,42.2),(1.3,42.7),(1.3,42.4),(0.9,42),(2.3,42.2),(2.2,41.4),(-0.7,41),(0.1,40.5),(-0.5,40.2),(-0.4,39.8),(-5.2,39.2),(-4.6,38),
    (-3.6,38.2),(-6.2,36.9),(-3.4,36.4),(-4.6,36.2),(-6,35.3),(-5.8,34.4),(-4.5,33.8),(-6.7,33.1),(-8.2,35.5),(-9.6,38),(-9.5,37.9),(-9.9,37.3),(-9.6,37.2),(-9.6,36.5),(-8.7,38.3),
    (-8.5,38.1),(-1.7,37.7),(-1.4,37.4),(-1.3,37.4),(0.4,37.2),(1.5,38.3),(2,38.9),(2.4,37.8),(2.4,37.8),(1.5,36.9),(2.3,36.5),(0.4,36),(0.6,35.8),(4.1,36.7),(5,36.8),(5,36.2),
    (-2.1,35.1),(-1.6,34.6),(-2.8,34),(0.4,34.7),(1.6,35.3),(1.9,34.6),(0.9,33.8),(3.1,34.3),(4.4,35),(3.9,34),(4.4,33.9),(3.8,33.1),(-3,32.7),(-2.3,33.1),(-1.7,32.8),(-0.7,33.1),
    (0.4,32.9),(0.4,32.2),(0.4,31.9),(1,31.5),(2.1,33),(3.7,32),(5.2,32.6),(2.1,31.1),(3.8,30.6),(-2.8,31.1),(-9.3,30.7),(-9.6,29.1),(-9.6,29.1),(-8.4,29.4),(-9.8,27.6),(-9.1,26.2),
    (-8.6,25.8),(-8.3,25.4),(-8.4,24.9),(-10.3,25.5),(-10.4,22.7),(-9.6,22.8),(-8.8,23.3),(-4.7,29.5),(-4.2,29.5),(-4.9,28.7),(-3.2,28.6),(-3.2,28.6),(-6.1,27.1),(-5.1,26.9),(-3.5,27.1),
    (-5,25.8),(-5,25.8),(-3.2,26),(-2.9,25.4),(-2.1,26.3),(-4.5,24.7),(-2.3,24.1),(-1.6,30.2),(-0.7,30.3),(-1.1,29.5),(-1.7,28.2),(-1.3,28),(-0.3,28),(-1.2,27),(-0.1,26.5),(0.4,27),
    (0.8,27.7),(0.9,29),(0.9,28.4),(-0.7,25.7),(0.9,25.8),(2,27.5),(1.7,26.4),(1.7,26.4),(2.1,25.7),(2,24.6),(2.8,25.9),(3,26.5),(3.1,27.5),(3.3,28.9),(4.1,28.6),(4.2,28.4),(4.5,29.1),
    (4.7,26.8),(3.8,26),(4.3,25.7),(3.6,25),(-0.1,23.3),(0.3,23.2),(3.1,23.3),(5.4,23.4),(6.1,24),(6.1,24),(1.9,21.6),(-2.9,22.4),(-3.1,21.5),(-3.8,21),(-2,21.2),(-1.6,21.2),(-1.3,21.3),
    (-0.7,20.4),(-6.1,20),(-6.1,20),(-0.3,19.2),(-0.6,18.3),(1.1,19.7),(1.4,18.6),(2,19),(2.4,19),(3.6,19.8),(5.1,20.3),(6,20.4),(8.5,19.7),(-2.5,18.6),(-3,18.1),(-3,17.8),(-3.5,17),
    (-2.3,17),(-2,16.8),(-4.7,16.4),(-4.7,15.6),(-4.1,15.3),(-3.9,14.7),(4.7,15.9),(4.7,15.9),(5.5,16.1),(6.9,18.4),(7.2,18),(7.8,18),(8.2,17.7),(8.3,17.5),(6.5,17.2),(7.8,16.9),(8.3,17),
    (9,16.4),(9.2,16.2),(9.4,17.5),(9.9,17.5),(10.4,17.3),(9.7,16.7),(10.3,16.1),(-0.3,14.5),(-0.5,14.4),(-1,13.7),(0.8,14),(5.3,13),(6.1,13.5),(6.1,12.5),(7.5,13.6),(7.1,12.2),(7.7,12.2),
    (4.9,11.7),(9.4,12),(9.6,11.9),(-1.6,11.5),(-0.6,11),(1.6,10.9),(1.1,10.5),(1.3,10.5),(1.6,9.8),(1.6,9.5),(-4.2,10),(-0.1,9.5),(0.3,8.8),(0.5,8.2),(-2.2,9),(-1.5,9.2),(-1.8,8.2),
    (-5.2,8.7),(-3,7.8),(-1.2,7.6),(-5,7.5),(-5.3,7.1),(-2.6,6.1),(3.1,6.7),(4,5.8),(3.9,5),(3.7,4),(1.9,4.1),(4.8,3.7),(0.5,5.3),(-1.4,4.7),(-3,3.8),(1,3.4),
    (7.8,39.9),(8.3,40.5),(9.4,38.1),(10.5,38),(11.2,38),(12.2,38.7),(13.2,37.5),(14.7,36.8),(14.7,36.8),(6.2,37.2),(6.7,37.7),(7.4,37.3),(8.5,37.2),(8.3,36.3),(8.7,35.9),(9.6,35.6),(10.1,35.8),
    (11.5,36.5),(11.2,35.6),(12.1,35.2),(12.3,35),(7.8,35),(9,34.6),(9.8,34.2),(10.5,34.2),(11.2,34.3),(13.8,34.8),(12.8,34),(17.8,35.1),(17.4,34.2),(17.6,34),(19.5,33.9),(20,33.9),(6.6,33.1),
    (7,33.4),(7.5,33.1),(9.4,33),(9.2,32.3),(8.4,32.5),(10.8,32.8),(11.1,32.4),(11.9,33),(12.5,32.8),(13,33.1),(12.8,31.8),(13.4,31.1),(14.7,31.8),(15.8,33.1),(16.1,32.8),(16,31.5),(17.8,32.9),
    (17.9,31.4),(19.4,31),(19.8,30.7),(16.6,30.5),(15.9,30.2),(15.9,30.2),(6.7,30.8),(7.5,30.6),(8.4,31.1),(9.4,31.1),(10.7,30.8),(8,29.7),(9.6,29.8),(9.3,29),(10.2,28.8),(9.2,27.2),(10,26.9),
    (15.4,28.8),(18.9,28.2),(12.8,26.5),(13.9,26),(14.4,25.1),(14.4,25.1),(11.4,24.8),(11.7,24.8),(14.8,23.8),(14.7,23),(17.8,23.4),(18,23),(18.3,22.5),(19.5,22.1),(17.5,21.4),(17.5,21.4),(18.2,19.8),
    (17,15.3),(21.6,21.9),(23.4,24.6),(24.6,25.2),(24.8,24.6),(27.6,23.5),(26.5,22.4),(26.9,22.3),(28.9,20.2),(29.2,22.3),(29.5,22.4),(30,22),(20.5,17.1),(24.3,18.1),
    (21.1,13),(29.5,13.5),(29.3,13),(29.1,12.5),(28.3,12),(27.8,11.5),(33.2,14),(33.2,14),(33.5,12.3),(33.1,11),(23.6,10.6),(29.6,10.8),(29.6,9.7),(29.5,9.4),(27.7,9.9),(34.1,9),(30.4,8.1),(32.5,7),
    (32.9,6.8),(32.8,4.9),(32.1,3.9),(28.9,2.9),(31.3,2.6),(34.8,1.4),(39.4,1.4),(40.2,1.6),(43.7,2.4),(43.7,2.4),(24.2,4.4),(41.4,-0.9),(42.3,-1.4),(44,-1),(39.2,-4.1),(39.8,-9.2),(39.7,-12.7),(41.1,-13.3),
    (32.2,-24.9),(39.4,-24.1),(38,-25.9),(38.5,-25.6),(38.5,-25.6),(39.7,-26.7),(39.7,-26.7),(49.6,-27.1),(51.9,-34.7),(59.1,-27.6),(58.7,-28.1),(60.6,-26.3),(60.2,-27.3),(60.8,-29),(57.2,-29.8),(56,-30),(56,-30),
    (58.8,-29.6),(54.8,-30.5),(57.3,-31.2),(57.8,-32.1),
    (-3,3.7),(1,3.3),(-0.2,2.1),(0,1.95),(3.7,3.9),(4.8,3.6),(6,0.9),(5.2,-1.1),(12,-0.07),(12,-0.07),(-2.5,-1.7),(-1.2,-2.5),
]

actor_names = ["Actor: 2", "Actor: 22", "Actor: 23", "Actor: 34", "Actor: 39"]
actor_points = [actor_2, actor_22, actor_23, actor_34, actor_39]
actor_colors = ["#c9615a", "#bed45e", "#77d493", "#5d81d6", "#bb5cd6"]

x_ticks = [-60, -40, -20, 0, 20, 40, 60]
y_ticks = [-40, -20, 0, 20, 40, 60]

fig = go.Figure()

for name, points, color in zip(actor_names, actor_points, actor_colors):
    xs, ys = zip(*points)
    fig.add_trace(go.Scatter(
        x=xs, y=ys, mode="markers", showlegend=False, hoverinfo="skip",
        marker=dict(size=13, color=color, opacity=0.28, line=dict(color="white", width=1)),
    ))
    # solid marker for the legend only
    fig.add_trace(go.Scatter(
        x=[None], y=[None], mode="markers", name=name, legendgroup=name,
        marker=dict(size=15, color=color, line=dict(color="white", width=0.5)),
    ))

axis_style = dict(
    showgrid=False, zeroline=False, showline=True, mirror=True, automargin=False,
    linecolor="#1a1a1a", linewidth=1.5,
    ticks="outside", ticklen=7, tickwidth=1.2, tickcolor="#1a1a1a",
    tickfont=dict(family="DejaVu Sans", size=18, color="#222222"),
)

fig.update_layout(
    width=1866, height=1180,
    margin=dict(l=57, r=21, t=22, b=47),
    paper_bgcolor="white", plot_bgcolor="white",
    xaxis=dict(range=[-60.4, 68.3], tickvals=x_ticks, **axis_style),
    yaxis=dict(range=[-57.0, 63.4], tickvals=y_ticks, **axis_style),
    legend=dict(
        x=0.9033, y=0.992, xanchor="left", yanchor="top",
        bgcolor="rgba(0,0,0,0)", borderwidth=0,
        font=dict(family="DejaVu Sans", size=18, color="#222222"),
        itemsizing="trace", itemwidth=53, tracegroupgap=4,
    ),
    shapes=[
        # rounded legend frame
        dict(type="path", xref="paper", yref="paper", layer="above",
             path="M 0.9055,0.9900 L 0.9916,0.9900 Q 0.9938,0.9900 0.9938,0.9864 L 0.9938,0.8524 "
                  "Q 0.9938,0.8488 0.9916,0.8488 L 0.9055,0.8488 Q 0.9033,0.8488 0.9033,0.8524 "
                  "L 0.9033,0.9864 Q 0.9033,0.9900 0.9055,0.9900 Z",
             fillcolor="rgba(255,255,255,0.8)", line=dict(color="#dcdcdc", width=1.5)),
        # stray black bar at the corner of the screenshot
        dict(type="rect", xref="paper", yref="paper",
             x0=1.0101, x1=1.0118, y0=-0.0423, y1=-0.0063,
             fillcolor="black", line_width=0),
    ],
)

fig.write_html("out.html", config={"displayModeBar": False},
               post_script="document.body.style.margin='0'")
